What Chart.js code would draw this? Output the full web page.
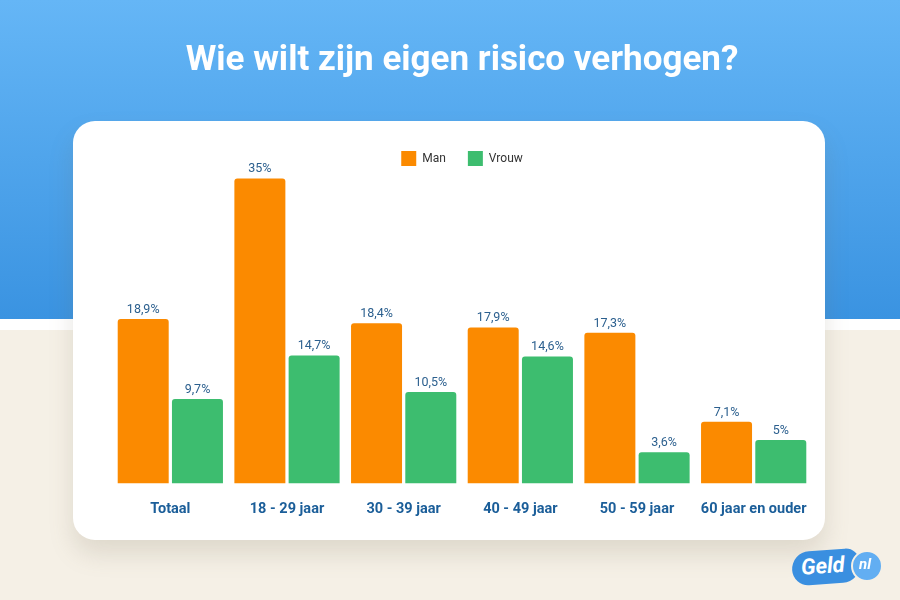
<!DOCTYPE html>
<html>
<head>
<meta charset="utf-8">
<script src="https://cdn.jsdelivr.net/npm/chart.js@4.4.1/dist/chart.umd.min.js"></script>
<style>
  html, body { margin: 0; padding: 0; }
  body { width: 900px; height: 600px; position: relative; overflow: hidden; font-family: Roboto, sans-serif; background: #f5f0e6; }
  .top { position: absolute; left: 0; top: 0; width: 900px; height: 319px; background: linear-gradient(#65b6f6, #3a93e1); }
  .strip { position: absolute; left: 0; top: 319px; width: 900px; height: 11px; background: #fff; }
  .card { position: absolute; left: 73px; top: 121px; width: 752px; height: 419px; background: #fff; border-radius: 22px; box-shadow: 0 14px 24px rgba(120, 110, 90, 0.18); }
  .logo { position: absolute; left: 792px; top: 550px; width: 68px; height: 34px; background: #3a8fe0; border-radius: 18px 14px 18px 16px; transform: rotate(-4deg); }
  .logo span { position: absolute; left: 9px; top: 3px; color: #fff; font: italic 700 22px Roboto, sans-serif; }
  .nl { position: absolute; left: 851px; top: 550px; width: 28px; height: 28px; border-radius: 50%; background: #62aef2; border: 2px solid #f5f0e6; z-index: 2; }
  .nl span { position: absolute; left: 6px; top: 3px; color: #fff; font: italic 700 15px Roboto, sans-serif; }
  canvas { position: absolute; left: 0; top: 0; }
</style>
</head>
<body>
<div class="top"></div>
<div class="strip"></div>
<div class="card"></div>
<div class="logo"><span>Geld</span></div>
<div class="nl"><span>nl</span></div>
<canvas id="chart" width="900" height="600"></canvas>
<script>
// data
const categories = ["Totaal", "18 - 29 jaar", "30 - 39 jaar", "40 - 49 jaar", "50 - 59 jaar", "60 jaar en ouder"];
const manValues = [18.9, 35, 18.4, 17.9, 17.3, 7.1];
const vrouwValues = [9.7, 14.7, 10.5, 14.6, 3.6, 5];

const fmt = v => String(v).replace(".", ",") + "%";

// value labels above bars
const valueLabels = {
  id: "valueLabels",
  afterDatasetsDraw(chart) {
    const c = chart.ctx;
    c.save();
    c.font = "12.5px Roboto";
    c.fillStyle = "#2b5f8e";
    c.textAlign = "center";
    c.textBaseline = "bottom";
    chart.data.datasets.forEach((ds, i) => {
      chart.getDatasetMeta(i).data.forEach((bar, j) => {
        c.fillText(fmt(ds.data[j]), bar.x, bar.y - 3);
      });
    });
    c.restore();
  }
};

new Chart(document.getElementById("chart"), {
  type: "bar",
  data: {
    labels: categories,
    datasets: [
      { label: "Man", data: manValues, backgroundColor: "#fb8a00", borderRadius: 3 },
      { label: "Vrouw", data: vrouwValues, backgroundColor: "#3dbd6f", borderRadius: 3 }
    ]
  },
  options: {
    responsive: false,
    animation: false,
    categoryPercentage: 0.93,
    barPercentage: 0.94,
    layout: { padding: { left: 112, right: 88, bottom: 65 } },
    plugins: {
      title: {
        display: true,
        text: "Wie wilt zijn eigen risico verhogen?",
        color: "#fff",
        font: { family: "Roboto", size: 35, weight: "bold" },
        padding: { top: 40, bottom: 47 }
      },
      legend: {
        labels: {
          boxWidth: 15,
          boxHeight: 15,
          padding: 22,
          color: "#333",
          font: { family: "Roboto", size: 12 }
        }
      },
      tooltip: { enabled: false }
    },
    scales: {
      x: {
        grid: { display: false, drawTicks: false },
        border: { display: false },
        ticks: {
          color: "#1b5e99",
          padding: 17,
          font: { family: "Roboto", size: 14.5, weight: "bold" }
        }
      },
      y: {
        display: false,
        min: 0,
        max: 35.3
      }
    }
  },
  plugins: [valueLabels]
});
</script>
</body>
</html>
